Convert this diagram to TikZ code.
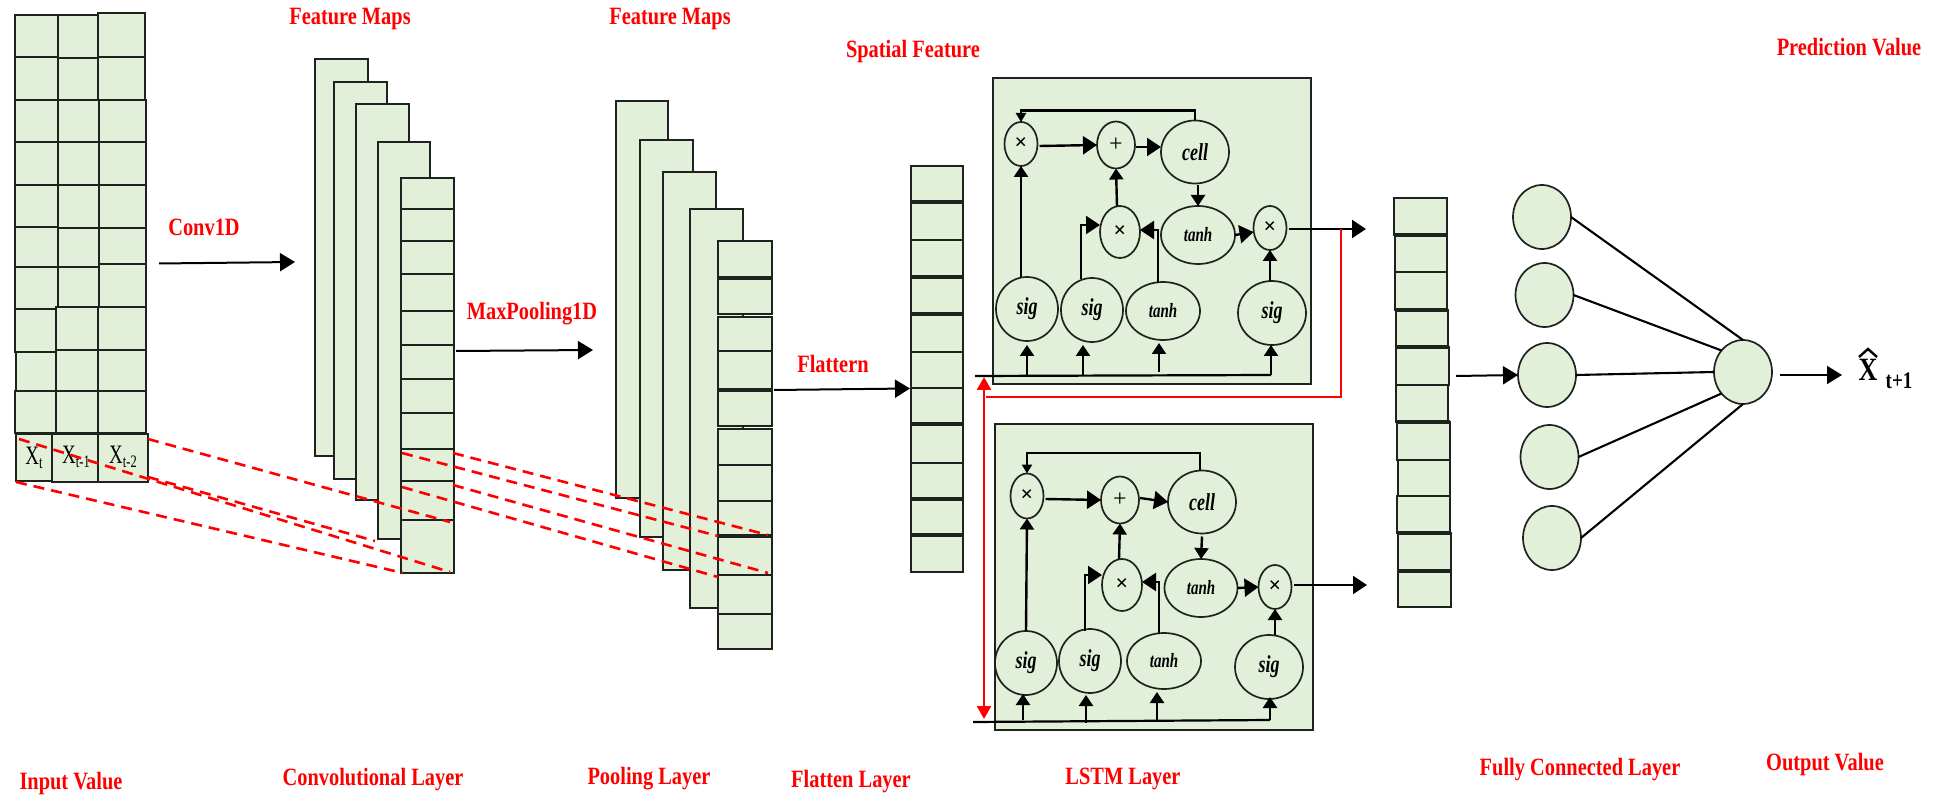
\documentclass[tikz,border=0pt]{standalone}
\usepackage{fontspec}
\setmainfont{Liberation Serif}
\usetikzlibrary{arrows.meta,shapes.geometric}
\definecolor{cellgreen}{HTML}{E2EFD9}
\definecolor{edge}{HTML}{1E2320}
\newcommand{\cellnode}[5]{%
  \pgfmathsetmacro{\cw}{#4-#2}\pgfmathsetmacro{\ch}{#5-#3}%
  \node[cellst,anchor=north west,minimum width=\cw pt,minimum height=\ch pt] (#1) at (#2,#3) {};}
\newcommand{\elnode}[6]{\node[ellst,minimum width=2*#4 pt,minimum height=2*#5 pt] (#1) at (#2,#3) {#6};}
\newcommand{\stv}[1]{\scalebox{1}[1.22]{#1}}
\newcommand{\ital}[1]{\scalebox{1}[1.35]{\fontsize{18}{20}\selectfont\bfseries\itshape #1}}
\newcommand{\italt}[1]{\scalebox{1}[1.35]{\fontsize{15}{20}\selectfont\bfseries\itshape #1}}
\newcommand{\mul}{\fontsize{22}{22}\selectfont\bfseries\raisebox{-1pt}{×}}
\newcommand{\pls}{\fontsize{24}{24}\selectfont\raisebox{-5pt}{+}}
\newcommand{\xlab}[1]{\scalebox{1}[1.4]{\fontsize{19}{22}\selectfont X\raisebox{-3pt}{\fontsize{12.5}{14}\selectfont #1}}}
\tikzset{
  cellst/.style={draw=edge,fill=cellgreen,line width=1.8pt,inner sep=0pt,outer sep=0pt,rectangle},
  ellst/.style={draw=edge,fill=cellgreen,line width=1.7pt,inner sep=0pt,outer sep=0pt,ellipse},
  lab/.style={text=red,font=\fontsize{20.4}{24}\selectfont\bfseries,inner sep=0pt},
  redash/.style={draw=red,line width=2.6pt,dash pattern=on 11pt off 7pt},
  bigarr/.style={-{Triangle[length=15pt,width=18pt]},line width=2pt,black},
  midarr/.style={-{Triangle[length=14pt,width=18pt]},line width=2.4pt,black},
  smlarr/.style={-{Triangle[length=11pt,width=14pt]},line width=2.4pt,black},
  tinyarr/.style={-{Triangle[length=9pt,width=10pt]},line width=2.2pt,black},
  wire/.style={line width=2.2pt,black},
  nnline/.style={line width=2.1pt,black},
  redline/.style={draw=red,line width=2.4pt},
  thickrule/.style={line width=3.2pt,edge},
}
\begin{document}
\begin{tikzpicture}[x=1pt,y=-1pt]
\useasboundingbox (0,0) rectangle (1944,799);

% ---- input grid
\foreach \n/\xa/\ya/\xb/\yb in {
 a1/15/15/58/57,a2/15/57/58/100,a3/15/100/58/142,a4/15/142/58/185,a5/15/185/58/227,a6/15/227/58/267,a7/15/267/58/309,a8/15/309/56/352,a9/16/352/56/391,a10/15/391/56/433,
 b1/58/15/98/58,b2/58/58/98/100,b3/58/100/99/142,b4/58/142/99/185,b5/58/185/99/228,b6/58/228/99/267,b7/58/267/99/307,b8/56/307/98/350,b9/56/350/98/391,b10/56/391/98/433,
 c1/98/13/145/57,c2/98/57/145/100,c3/99/100/146/142,c4/99/142/146/185,c5/99/185/146/228,c6/99/228/146/264,c7/99/264/146/307,c8/98/307/146/350,c9/98/350/146/391,c10/98/391/146/433}
 {\cellnode{in\n}{\xa}{\ya}{\xb}{\yb}}
\cellnode{xa}{16}{434}{52}{481}
\cellnode{xb}{52}{434}{98}{482}
\cellnode{xc}{98}{434}{148}{482}
\node[inner sep=0pt] (xat) at (34,458) {\xlab{t}};
\node[inner sep=0pt] (xbt) at (76,457) {\xlab{t-1}};
\node[inner sep=0pt] (xct) at (123,457) {\xlab{t-2}};

% ---- feature maps 1
\cellnode{fa}{315}{59}{368}{456}
\cellnode{fb}{334}{82}{387}{479}
\cellnode{fc}{356}{104}{409}{500}
\cellnode{fd}{378}{142}{430}{539}
\foreach \n/\ya/\yb in {1/178/209,2/209/241,3/241/274,4/274/311,5/311/345,6/345/379,7/379/413,8/413/449,9/449/481,10/481/520,11/520/573}
 {\cellnode{fe\n}{401}{\ya}{454}{\yb}}

% ---- feature maps 2
\cellnode{pa}{616}{101}{668}{498}
\cellnode{pb}{640}{140}{693}{537}
\cellnode{pc}{663}{172}{716}{570}
\cellnode{pd}{690}{209}{743}{608}
\foreach \n/\ya/\yb in {1/241/277,2/279/314,3/317/351,4/351/390,5/390/426,6/429/465,7/465/501,8/501/536,9/536/575,10/575/614,11/614/649}
 {\cellnode{pe\n}{718}{\ya}{772}{\yb}}
\draw[thickrule] (718,278) -- (772,278) (718,390) -- (772,390) (718,536) -- (772,536);

% ---- flatten column
\foreach \n/\ya/\yb in {1/166/202,2/202/240,3/240/277,4/277/314,5/314/352,6/352/388,7/388/424,8/424/463,9/463/499,10/499/535,11/535/572}
 {\cellnode{fl\n}{911}{\ya}{963}{\yb}}
\draw[thickrule] (911,202) -- (963,202) (911,277) -- (963,277) (911,314) -- (963,314) (911,424) -- (963,424) (911,499) -- (963,499) (911,535) -- (963,535);

% ---- right column
\foreach \n/\xa/\ya/\xb/\yb in {1/1394/198/1447/235,2/1395/235/1447/272,3/1395/272/1447/310,4/1396/310/1448/347,5/1396/347/1449/385,6/1396/385/1448/422,7/1397/422/1450/460,8/1398/460/1450/496,9/1397/496/1450/533,10/1398/533/1451/571,11/1398/571/1451/607}
 {\cellnode{rc\n}{\xa}{\ya}{\xb}{\yb}}
\draw[thickrule] (1395,235) -- (1447,235) (1396,310) -- (1448,310) (1396,347) -- (1449,347) (1397,422) -- (1450,422) (1397,533) -- (1451,533) (1398,571) -- (1451,571);

% ---- red dashed projections
\coordinate (r1a) at (16,482);  \coordinate (r1b) at (403,573);
\coordinate (r2a) at (19,439);  \coordinate (r2b) at (450,572);
\coordinate (r3a) at (148,439); \coordinate (r3b) at (450,522);
\coordinate (r4a) at (148,477); \coordinate (r4b) at (375,541);
\coordinate (r5a) at (453,453); \coordinate (r5b) at (768,535);
\coordinate (r6a) at (402,453); \coordinate (r6b) at (718,536);
\coordinate (r7a) at (453,485); \coordinate (r7b) at (768,573);
\coordinate (r8a) at (402,487); \coordinate (r8b) at (718,577);
\foreach \i in {1,...,8} {\draw[redash] (r\i a) -- (r\i b);}

% ---- main arrows
\coordinate (cv1) at (159,263.5); \coordinate (cv2) at (295,262);
\draw[bigarr] (cv1) -- (cv2);
\coordinate (mp1) at (456,351); \coordinate (mp2) at (593,350);
\draw[bigarr] (mp1) -- (mp2);
\coordinate (ft1) at (774,390); \coordinate (ft2) at (910,388.5);
\draw[bigarr] (ft1) -- (ft2);

% ---- LSTM top
\cellnode{tbox}{993}{78}{1311}{384}
\elnode{tx1}{1021}{144}{16.5}{22}{\mul}
\elnode{tpl}{1116}{145}{19}{23.5}{\pls}
\elnode{tce}{1195}{152}{34}{31.5}{\ital{cell}}
\elnode{tx2}{1120}{232}{20}{26}{\mul}
\elnode{tta}{1198}{235}{37}{29}{\italt{tanh}}
\elnode{tx3}{1270}{228}{16.5}{22}{\mul}
\elnode{ts1}{1027}{309}{31}{32}{\ital{sig}}
\elnode{ts2}{1092}{310}{31}{32}{\ital{sig}}
\elnode{ttb}{1163}{311}{37}{29}{\italt{tanh}}
\elnode{ts3}{1272}{313}{34}{32}{\ital{sig}}
\coordinate (tbusL) at (975,376);
\coordinate (tout) at (1366,229);
\draw[tinyarr] (tce.north) -- ++(0,-10) -| (tx1.north);
\draw[midarr] (tx1.east) ++(2,2) -- (tpl.west);
\draw[midarr] (tpl.east) ++(1,2) -- (tce.west |- 0,147);
\draw[smlarr] (tce.south) ++(3,2) -- (tta.north);
\draw[midarr] (tta.east) -- (tx3.west |- 0,232);
\draw[midarr] (tx3.east) ++(2,1) -- (tout);
\draw[smlarr] (ts3.north -| tx3) -- (tx3.south);
\draw[smlarr,line width=2.9pt] (tx1 |- ts1.north) -- (tx1.south);
\draw[smlarr] (tx2.north) ++(-3,0) -- (tpl.south);
\draw[midarr] (1081,279) |- (tx2.west |- 0,225);
\draw[midarr] (1158,283) |- (tx2.east |- 0,230);
\draw[wire] (tbusL) -- (1271,375);
\draw[smlarr] (1271,375) -- (1271,345);
\draw[smlarr] (1027,375) -- (1027,345);
\draw[smlarr] (1083,375) -- (1083,345);
\draw[smlarr] (1159,372) -- (1159,343);

% ---- LSTM bottom
\cellnode{bbox}{995}{424}{1313}{730}
\elnode{bx1}{1027}{496}{16.5}{22.5}{\mul}
\elnode{bpl}{1120}{500}{19}{23.5}{\pls}
\elnode{bce}{1202}{502}{34}{31.5}{\ital{cell}}
\elnode{bx2}{1122}{585}{20}{26}{\mul}
\elnode{bta}{1201}{588}{36.5}{29}{\italt{tanh}}
\elnode{bx3}{1275}{587}{16.5}{22}{\mul}
\elnode{bs1}{1026}{663}{31}{32}{\ital{sig}}
\elnode{bs2}{1090}{661}{31}{32}{\ital{sig}}
\elnode{btb}{1164}{661}{37}{28}{\italt{tanh}}
\elnode{bs3}{1269}{667}{34}{32}{\ital{sig}}
\coordinate (bbusL) at (973,722);
\coordinate (bout) at (1367,585);
\draw[tinyarr] (1200,470) -- (1200,453) -| (bx1.north);
\draw[midarr] (bx1.east) ++(2,3) -- (bpl.west);
\draw[midarr] (bpl.east) ++(1,-2) -- (bce.west);
\draw[smlarr] (bce.south) ++(0,3) -- (bta.north);
\draw[midarr] (bta.east) -- (bx3.west);
\draw[midarr] (bx3.east) ++(2,-2) -- (bout);
\draw[smlarr,line width=2.9pt] (bx3 |- bs3.north) -- (bx3.south);
\draw[smlarr] (bs1.north) -- (bx1.south);
\draw[smlarr] (bx2.north) ++(-3,0) -- (bpl.south);
\draw[midarr] (1085,631) |- (bx2.west |- 0,575);
\draw[midarr] (1159,634) |- (bx2.east |- 0,582);
\draw[wire] (bbusL) -- (1270,720);
\draw[smlarr] (1270,720) -- (1270,697);
\draw[smlarr] (1023,720) -- (1023,694);
\draw[smlarr] (1086,723) -- (1086,695);
\draw[smlarr] (1157,720) -- (1157,692);

% ---- red feedback
\coordinate (fb0) at (1341,229);
\coordinate (fb1) at (1341,397);
\coordinate (fb2) at (986,397);
\coordinate (fbu) at (984,377);
\coordinate (fbd) at (984,719);
\draw[redline,line join=miter] (fb0) -- (fb1) -- (fb2);
\draw[redline,{Triangle[length=13pt,width=14pt]}-{Triangle[length=13pt,width=14pt]},red] (fbu) -- (fbd);

% ---- dense layer
\elnode{n1}{1542}{217}{29}{32}{}
\elnode{n2}{1544.5}{295}{29}{32}{}
\elnode{n3}{1547}{375}{29}{32}{}
\elnode{n4}{1549.5}{457}{29}{32}{}
\elnode{n5}{1552}{538}{29}{32}{}
\elnode{nout}{1743}{372}{29}{32}{}
\draw[nnline] (n1.east) -- (nout.north);
\draw[nnline] (n2.east) -- (nout.135);
\draw[nnline] (n3.east) -- (nout.west);
\draw[nnline] (n4.east) -- (nout.225);
\draw[nnline] (n5.east) -- (nout.south);
\coordinate (rcout) at (1456,376);
\draw[bigarr] (rcout) -- (n3.west);
\coordinate (nxout) at (1842,375);
\draw[bigarr] (nout.east) ++(8,3) -- (nxout);
\node[inner sep=0pt] (xhat) at (1868,370) {\scalebox{1}[1.25]{\fontsize{26}{28}\selectfont\bfseries X}};
\coordinate (hata) at (1859,357); \coordinate (hatb) at (1868,349); \coordinate (hatc) at (1877,357);
\draw[line width=2.4pt,black] (hata) -- (hatb) -- (hatc);
\node[inner sep=0pt] (xsub) at (1899,381) {\scalebox{1}[1.25]{\fontsize{19}{22}\selectfont\bfseries t+1}};

% ---- labels
\node[lab] (l1) at (350,19) {\stv{Feature Maps}};
\node[lab] (l2) at (670,19) {\stv{Feature Maps}};
\node[lab] (l3) at (913,52) {\stv{Spatial Feature}};
\node[lab] (l4) at (1849,47) {\stv{Prediction Value}};
\node[lab] (l5) at (204,227) {\stv{Conv1D}};
\node[lab] (l6) at (532,314) {\stv{MaxPooling1D}};
\node[lab] (l7) at (833,364) {\stv{Flattern}};
\node[lab] (l8) at (71,784) {\stv{Input Value}};
\node[lab] (l9) at (373,780) {\stv{Convolutional Layer}};
\node[lab] (l10) at (649,779) {\stv{Pooling Layer}};
\node[lab] (l11) at (851,782) {\stv{Flatten Layer}};
\node[lab] (l12) at (1123,779) {\stv{LSTM Layer}};
\node[lab] (l13) at (1580,770) {\stv{Fully Connected Layer}};
\node[lab] (l14) at (1825,765) {\stv{Output Value}};
\end{tikzpicture}
\end{document}
